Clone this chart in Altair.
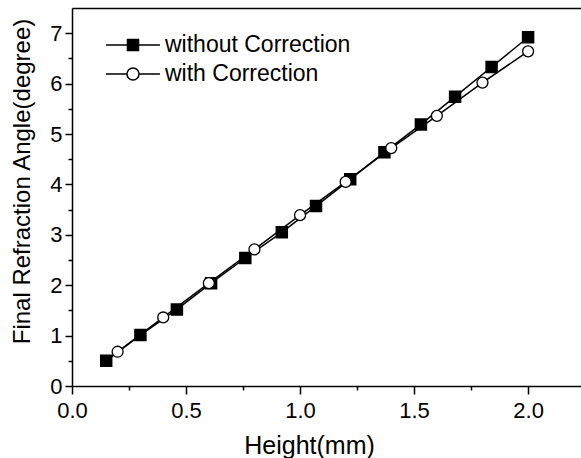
import altair as alt
import pandas as pd

# Data
sq_x = [0.15, 0.30, 0.46, 0.61, 0.76, 0.92, 1.07, 1.22, 1.37, 1.53, 1.68, 1.84, 2.00]
sq_y = [0.50, 1.01, 1.52, 2.04, 2.54, 3.05, 3.57, 4.10, 4.64, 5.19, 5.74, 6.33, 6.92]
ci_x = [0.20, 0.40, 0.60, 0.80, 1.00, 1.20, 1.40, 1.60, 1.80, 2.00]
ci_y = [0.68, 1.36, 2.04, 2.71, 3.39, 4.05, 4.72, 5.36, 6.02, 6.64]
series_names = ["without Correction", "with Correction"]

x_major = [0.0, 0.5, 1.0, 1.5, 2.0]
x_minor = [0.25, 0.75, 1.25, 1.75]
y_major = [0, 1, 2, 3, 4, 5, 6, 7]
y_minor = [0.5, 1.5, 2.5, 3.5, 4.5, 5.5, 6.5]

df = pd.concat([
    pd.DataFrame({"h": sq_x, "a": sq_y, "series": series_names[0]}),
    pd.DataFrame({"h": ci_x, "a": ci_y, "series": series_names[1]}),
], ignore_index=True)

FONT = "Liberation Sans"
xs = alt.Scale(domain=[0, 2.232], nice=False, zero=False)
ys = alt.Scale(domain=[0, 7.5], nice=False, zero=False)

x_axis = alt.Axis(values=x_major, format=".1f", tickSize=8, labelFontSize=22,
                  labelPadding=6, labelFlush=False, title="Height(mm)", titleFontSize=25,
                  titleFontWeight="normal", titleX=237, titleY=67,
                  titleBaseline="alphabetic", grid=False, orient="bottom")
y_axis = alt.Axis(values=y_major, format="d", tickSize=7, labelFontSize=22,
                  labelPadding=3, labelFlush=False, title="Final Refraction Angle(degree)",
                  titleFontSize=24, titleFontWeight="normal", titleY=173,
                  titleX=-50, titleBaseline="middle", grid=False, orient="left")
x_axis_minor = alt.Axis(values=x_minor, tickSize=4, labels=False, domain=False,
                        title=None, grid=False, orient="bottom")
y_axis_minor = alt.Axis(values=y_minor, tickSize=4, labels=False, domain=False,
                        title=None, grid=False, orient="left")
x_axis_top = alt.Axis(ticks=False, labels=False, domain=True, title=None,
                      grid=False, orient="top")

base = alt.Chart(df)

lines = base.mark_line(color="black", strokeWidth=1.5).encode(
    x=alt.X("h:Q", scale=xs, axis=x_axis),
    y=alt.Y("a:Q", scale=ys, axis=y_axis),
    detail="series:N",
)

minor = base.mark_point(opacity=0).encode(
    x=alt.X("h:Q", scale=xs, axis=x_axis_minor),
    y=alt.Y("a:Q", scale=ys, axis=y_axis_minor),
)

top = base.mark_point(opacity=0).encode(
    x=alt.X("h:Q", scale=xs, axis=x_axis_top),
    y=alt.Y("a:Q", scale=ys, axis=None),
)

squares = base.transform_filter(alt.datum.series == series_names[0]).mark_point(
    shape="square", filled=True, fill="black", stroke="black", size=110, opacity=1
).encode(
    x=alt.X("h:Q", scale=xs, axis=None),
    y=alt.Y("a:Q", scale=ys, axis=None),
)

circles = base.transform_filter(alt.datum.series == series_names[1]).mark_point(
    shape="circle", filled=True, fill="white", stroke="black", strokeWidth=1.3,
    size=120, opacity=1
).encode(
    x=alt.X("h:Q", scale=xs, axis=None),
    y=alt.Y("a:Q", scale=ys, axis=None),
)

sq_path = "M-2.45,0H2.45M-0.5,-0.5H0.5V0.5H-0.5Z"
ci_path = ("M-2.45,0H-0.55M0.55,0H2.45M-0.55,0A0.55,0.55 0 1,0 0.55,0"
           "A0.55,0.55 0 1,0 -0.55,0Z")

leg = dict(title=None, orient="none", legendX=49, legendY=25, symbolSize=484,
           symbolOpacity=1, symbolStrokeWidth=1.5,
           labelFontSize=23, labelOffset=20, rowPadding=5, labelColor="black",
           labelFont=FONT, labelLimit=0)

legend_layer = base.mark_point(opacity=0, strokeWidth=1.5).encode(
    x=alt.X("h:Q", scale=xs, axis=None),
    y=alt.Y("a:Q", scale=ys, axis=None),
    shape=alt.Shape("series:N", sort=series_names,
                    scale=alt.Scale(domain=series_names, range=[sq_path, ci_path]),
                    legend=alt.Legend(**leg)),
    fill=alt.Fill("series:N", sort=series_names,
                  scale=alt.Scale(domain=series_names, range=["black", "white"]),
                  legend=alt.Legend(**leg)),
    stroke=alt.Stroke("series:N", sort=series_names,
                      scale=alt.Scale(domain=series_names, range=["black", "black"]),
                      legend=alt.Legend(**leg)),
)

chart = alt.layer(lines, minor, top, squares, circles, legend_layer).resolve_axis(
    x="independent", y="independent"
).properties(
    width=509, height=378,
    autosize=alt.AutoSizeParams(type="none"),
    padding={"left": 72, "top": 8, "right": 0, "bottom": 72},
).configure_view(
    strokeWidth=0
).configure_axis(
    domainColor="black", domainWidth=1.5, tickColor="black", tickWidth=1.5,
    labelColor="black", titleColor="black", labelFont=FONT, titleFont=FONT,
).configure_legend(
    labelFont=FONT
)

chart.save("out.html", embed_options={"renderer": "svg", "actions": False})
